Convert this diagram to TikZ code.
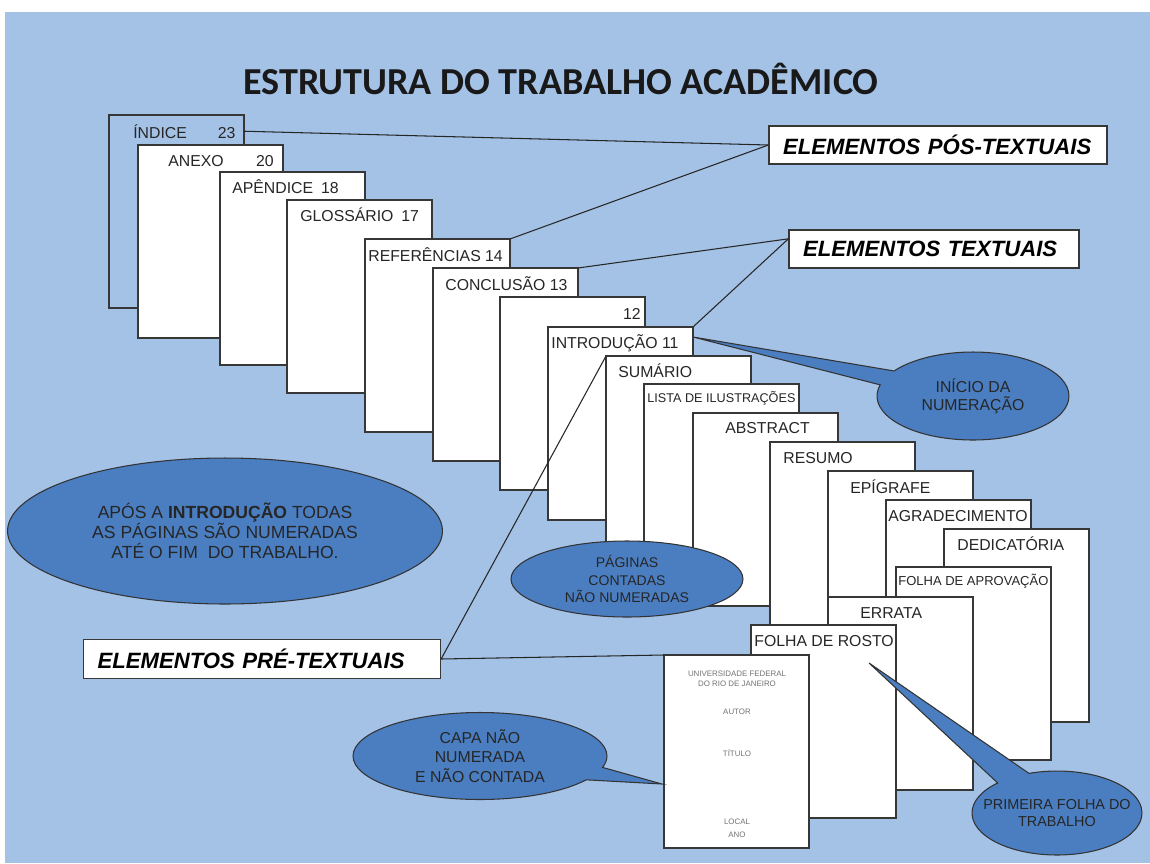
\documentclass[tikz,border=0pt]{standalone}
\usepackage{fontspec}
\setmainfont{Liberation Sans}
\newfontfamily\titlefont{Carlito}
\usepackage{tikz}
\usetikzlibrary{shapes.geometric,shapes.callouts}
\definecolor{fundo}{RGB}{164,194,230}
\definecolor{balao}{RGB}{74,126,193}
\definecolor{borda}{RGB}{55,55,55}
\definecolor{texto}{RGB}{38,38,38}

\begin{document}
\begin{tikzpicture}[x=0.02cm, y=-0.02cm,
   folha/.style={draw=borda, fill=white, line width=0.75pt, anchor=north west,
      minimum width=2.9cm, minimum height=3.86cm, inner sep=0pt, outer sep=0pt},
   rotulo/.style={anchor=base west, inner sep=0pt, text=texto, font=\fontsize{9}{10}\selectfont},
   elemento/.style={draw=borda, fill=white, line width=0.75pt, inner xsep=0.28cm, inner ysep=0pt,
      minimum height=0.76cm, align=left, font=\fontsize{12.6}{14}\selectfont\bfseries\itshape},
   bolha/.style={draw=black!80, fill=balao, line width=0.6pt, inner sep=0pt, text=texto, align=center},
   ligacao/.style={draw=black!85, line width=0.6pt},
   capatxt/.style={inner sep=0pt, text=black!55, align=center, font=\fontsize{4.5}{5.7}\selectfont}]
   \fill[fundo] (5,12) rectangle (1150,863);
   \useasboundingbox (0,0) rectangle (1150,863);
   \node[font=\titlefont\bfseries\fontsize{21.7}{24}\selectfont, text=black!90] (titulo) at (561,79) {ESTRUTURA DO TRABALHO ACADÊMICO};
   % folhas, de tras para a frente
   \node[folha, fill=fundo, minimum width=2.7cm] (indice) at (109,115) {};
   \node[rotulo] (tindice) at (133,138) {ÍNDICE\hspace{1.95em}23};
   \node[folha] (anexo) at (138,145) {};
   \node[rotulo] (tanexo) at (168,166) {ANEXO\hspace{2.05em}20};
   \node[folha] (apendice) at (220,172) {};
   \node[rotulo] (tapendice) at (232,193) {APÊNDICE\hspace{0.5em}18};
   \node[folha] (glossario) at (287,200) {};
   \node[rotulo] (tglossario) at (300,221) {GLOSSÁRIO\hspace{0.5em}17};
   \node[folha] (refs) at (365,239) {};
   \node[rotulo] (trefs) at (368,261) {REFERÊNCIAS 14};
   \node[folha] (concl) at (433,268) {};
   \node[rotulo] (tconcl) at (445,290) {CONCLUSÃO 13};
   \node[folha] (doze) at (500,297) {};
   \node[rotulo, anchor=base east] (tdoze) at (641,319) {12};
   \node[folha] (intro) at (548,327) {};
   \node[rotulo] (tintro) at (551,348) {INTRODUÇÃO 11};
   \node[folha] (sumario) at (606,356) {};
   \node[rotulo] (tsumario) at (618,377) {SUMÁRIO};
   \node[folha, minimum width=3.1cm] (lista) at (644,384) {};
   \node[rotulo, font=\fontsize{7.2}{8}\selectfont] (tlista) at (647,402) {LISTA DE ILUSTRAÇÕES};
   \node[folha] (abstract) at (693,413) {};
   \node[rotulo] (tabstract) at (725,433) {ABSTRACT};
   \node[folha] (resumo) at (770,442) {};
   \node[rotulo] (tresumo) at (783,463) {RESUMO};
   \node[folha] (epigrafe) at (828,471) {};
   \node[rotulo] (tepigrafe) at (850,493) {EPÍGRAFE};
   \node[folha] (agradec) at (886,500) {};
   \node[rotulo] (tagradec) at (888,521) {AGRADECIMENTO};
   \node[folha] (dedic) at (944,529) {};
   \node[rotulo] (tdedic) at (957,550) {DEDICATÓRIA};
   \node[folha, minimum width=3.1cm] (aprov) at (896,567) {};
   \node[rotulo, font=\fontsize{7.4}{8}\selectfont] (taprov) at (898,585) {FOLHA DE APROVAÇÃO};
   \node[folha] (errata) at (828,597) {};
   \node[rotulo] (terrata) at (860,618) {ERRATA};
   \node[folha] (rosto) at (751,625) {};
   \node[rotulo] (trosto) at (754,646) {FOLHA DE ROSTO};
   \node[folha] (capa) at (664,655) {};
   \node[capatxt] (univ) at (737,679) {UNIVERSIDADE FEDERAL\\DO RIO DE JANEIRO};
   \node[capatxt] (autor) at (737,712) {AUTOR};
   \node[capatxt] (titulotrab) at (737,753) {TÍTULO};
   \node[capatxt] (local) at (737,822) {LOCAL};
   \node[capatxt] (ano) at (737,835) {ANO};
   % caixas dos elementos
   \node[elemento, text width=6.2cm] (pos) at (938,145) {ELEMENTOS PÓS-TEXTUAIS};
   \node[elemento, text width=5.24cm] (etxt) at (934,249) {ELEMENTOS TEXTUAIS};
   \node[elemento, text width=6.58cm, minimum height=0.78cm] (pre) at (262,659) {ELEMENTOS PRÉ-TEXTUAIS};
   \draw[ligacao] (indice.east |- tindice) -- (pos.west);
   \draw[ligacao] (refs.north east) -- (pos.west);
   \draw[ligacao] (concl.north east) -- (etxt.176);
   \draw[ligacao] (intro.north east) -- (etxt.176);
   \draw[ligacao] (pre.east) -- (sumario.north west);
   \draw[ligacao] (pre.east) -- (capa.north west);
   % baloes
   \coordinate (pinicio) at (693,337);
   \coordinate (pcapa) at (662,784);
   \coordinate (prosto) at (869,663);
   \node[bolha, ellipse, minimum width=8.7cm, minimum height=2.92cm, font=\fontsize{10}{11.3}\selectfont] (apos) at (225,531)
      {APÓS A \textbf{INTRODUÇÃO} TODAS\\AS PÁGINAS SÃO NUMERADAS\\ATÉ O FIM\ \ DO TRABALHO.};
   \node[bolha, ellipse, minimum width=4.64cm, minimum height=1.52cm, font=\fontsize{8}{10.2}\selectfont] (paginas) at (627,579)
      {PÁGINAS\\CONTADAS\\NÃO NUMERADAS};
   \node[bolha, ellipse callout, callout absolute pointer={(pinicio)}, callout pointer arc=20,
      minimum width=3.84cm, minimum height=1.76cm, font=\fontsize{9}{10.2}\selectfont] (inicio) at (973,396)
      {INÍCIO DA\\NUMERAÇÃO};
   \node[bolha, ellipse callout, callout absolute pointer={(pcapa)}, callout pointer arc=18,
      minimum width=5.08cm, minimum height=1.74cm, font=\fontsize{9}{11}\selectfont] (capanum) at (480,756)
      {CAPA NÃO\\NUMERADA\\E NÃO CONTADA};
   \node[bolha, ellipse callout, callout absolute pointer={(prosto)}, callout pointer arc=25,
      minimum width=3.4cm, minimum height=1.68cm, font=\fontsize{8.2}{9.6}\selectfont] (primeira) at (1057,813)
      {\makebox[0pt]{PRIMEIRA FOLHA DO}\\\makebox[0pt]{TRABALHO}};
\end{tikzpicture}
\end{document}
